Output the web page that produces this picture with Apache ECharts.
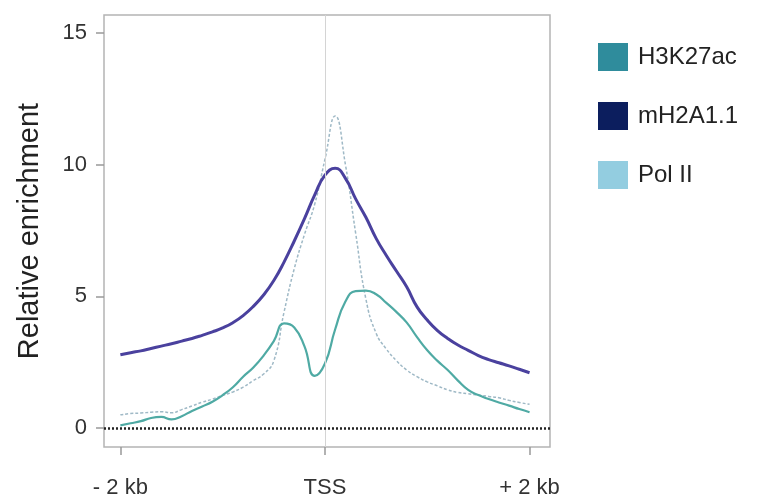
<!DOCTYPE html>
<html>
<head>
<meta charset="utf-8">
<script src="https://cdn.jsdelivr.net/npm/echarts@6/dist/echarts.min.js"></script>
<style>
  html, body { margin: 0; padding: 0; background: #fff; }
  #chart { width: 774px; height: 504px; }
</style>
</head>
<body>
<div id="chart"></div>
<script>
// distance from TSS in kb, -2.0 .. +2.0 in steps of 0.1
var positions = [-2.0, -1.9, -1.8, -1.7, -1.6, -1.5, -1.4, -1.3, -1.2, -1.1, -1.0,
    -0.9, -0.8, -0.7, -0.6, -0.5, -0.4, -0.3, -0.2, -0.1, 0,
    0.1, 0.2, 0.3, 0.4, 0.5, 0.6, 0.7, 0.8, 0.9, 1.0,
    1.1, 1.2, 1.3, 1.4, 1.5, 1.6, 1.7, 1.8, 1.9, 2.0];

var h3k27ac = [0.1, 0.18, 0.26, 0.38, 0.42, 0.33, 0.45, 0.65, 0.82, 1.0, 1.25,
    1.55, 1.95, 2.3, 2.75, 3.3, 3.97, 3.82, 3.1, 1.98, 2.45,
    3.75, 4.8, 5.2, 5.22, 5.08, 4.75, 4.4, 4.0, 3.45, 2.95,
    2.55, 2.2, 1.8, 1.45, 1.25, 1.1, 0.97, 0.85, 0.72, 0.6];

var mh2a = [2.78, 2.86, 2.93, 3.02, 3.11, 3.2, 3.3, 3.4, 3.52, 3.65, 3.8,
    4.0, 4.27, 4.62, 5.05, 5.6, 6.3, 7.1, 7.95, 8.85, 9.6,
    9.86, 9.48, 8.7, 8.0, 7.2, 6.55, 5.95, 5.35, 4.6, 4.1,
    3.7, 3.4, 3.15, 2.95, 2.75, 2.6, 2.48, 2.36, 2.23, 2.1];

var polII = [0.5, 0.55, 0.57, 0.6, 0.62, 0.58, 0.7, 0.84, 0.98, 1.1, 1.24,
    1.37, 1.55, 1.8, 2.05, 2.55, 4.4, 6.05, 7.35, 8.5, 10.2,
    11.85, 10.0, 7.4, 4.9, 3.6, 3.0, 2.55, 2.2, 1.95, 1.75,
    1.6, 1.45, 1.35, 1.3, 1.25, 1.2, 1.15, 1.05, 0.97, 0.9];

var xTicks = [-2, 0, 2];
var xTickLabels = ['- 2 kb', 'TSS', '+ 2 kb'];
var yTicks = [0, 5, 10, 15];

function pairs(ys) {
    var out = [];
    for (var i = 0; i < positions.length; i++) {
        out.push([positions[i], ys[i]]);
    }
    return out;
}

var font = "'Liberation Sans', Arial, sans-serif";
var myChart = echarts.init(document.getElementById('chart'));

var option = {
    backgroundColor: '#fff',
    animation: false,
    textStyle: {fontFamily: font},
    grid: {left: 104, right: 224, top: 15, bottom: 57, show: true, borderColor: '#b4b4b4', borderWidth: 1.5},
    legend: {
        orient: 'vertical', left: 593, top: 38, icon: 'rect',
        itemWidth: 30, itemHeight: 28, itemGap: 31,
        textStyle: {fontSize: 24, color: '#222', fontFamily: font, padding: [0, 0, 0, 5]},
        data: ['H3K27ac', 'mH2A1.1', 'Pol II']
    },
    xAxis: {
        type: 'value', min: -2.16, max: 2.2,
        splitLine: {show: false},
        axisLine: {show: false, onZero: false},
        axisTick: {show: true, customValues: xTicks, length: 8, lineStyle: {color: '#999', width: 1.5}},
        axisLabel: {
            customValues: xTicks, margin: 30, fontSize: 22, color: '#333',
            formatter: function (v) { return xTickLabels[xTicks.indexOf(Math.round(v))]; }
        }
    },
    yAxis: {
        type: 'value', min: -0.72, max: 15.68,
        name: 'Relative enrichment', nameLocation: 'middle', nameGap: 60,
        nameTextStyle: {fontSize: 29, color: '#222'},
        splitLine: {show: false},
        axisLine: {show: false, onZero: false},
        axisTick: {show: true, customValues: yTicks, length: 8, lineStyle: {color: '#999', width: 1.5}},
        axisLabel: {customValues: yTicks, margin: 17, fontSize: 22, color: '#333'}
    },
    series: [
        {
            name: 'H3K27ac', type: 'line', smooth: 0.5, symbol: 'none',
            itemStyle: {color: '#2f8c9c'},
            lineStyle: {color: '#4faaa4', width: 2.2},
            data: pairs(h3k27ac),
            z: 3
        },
        {
            name: 'mH2A1.1', type: 'line', smooth: 0.5, symbol: 'none',
            itemStyle: {color: '#0c1e5e'},
            lineStyle: {color: '#4a419e', width: 3},
            data: pairs(mh2a),
            z: 4
        },
        {
            name: 'Pol II', type: 'line', smooth: 0.5, symbol: 'none',
            itemStyle: {color: '#93cde0'},
            lineStyle: {color: '#9fb9c6', width: 1.5, type: [3, 2]},
            data: pairs(polII),
            z: 2,
            markLine: {
                silent: true, symbol: 'none', label: {show: false},
                data: [
                    {xAxis: 0, lineStyle: {color: '#d4d4d4', width: 1, type: 'solid'}},
                    {yAxis: 0, lineStyle: {color: '#222', width: 2.5, type: [2, 2]}}
                ]
            }
        }
    ]
};

myChart.setOption(option);
</script>
</body>
</html>
